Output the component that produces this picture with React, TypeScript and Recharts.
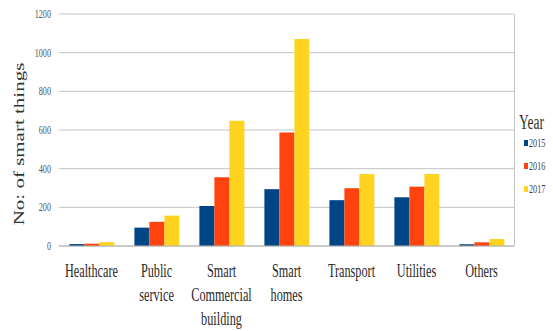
import { BarChart, Bar, XAxis, YAxis, CartesianGrid } from "recharts";

const categories = [
  "Healthcare",
  "Public\nservice",
  "Smart\nCommercial\nbuilding",
  "Smart\nhomes",
  "Transport",
  "Utilities",
  "Others",
];
const y2015 = [10, 95, 207, 294, 237, 252, 9];
const y2016 = [12, 125, 356, 587, 299, 307, 19];
const y2017 = [20, 157, 648, 1071, 373, 373, 36];
const yTicks = [0, 200, 400, 600, 800, 1000, 1200];
const years = ["2015", "2016", "2017"];
const COLORS = ["#004586", "#ff420e", "#ffd320"];

const data = categories.map((name, i) => ({
  name,
  y2015: y2015[i],
  y2016: y2016[i],
  y2017: y2017[i],
}));

const SERIF = "'Liberation Serif', 'DejaVu Serif', serif";
// the source image is squashed horizontally, so text gets squeezed too
const SQUEEZE = 0.68;

function CategoryTick({ x, y, payload }: any) {
  const lines = String(payload.value).split("\n");
  return (
    <text
      transform={`translate(${x},${y}) scale(${SQUEEZE},1)`}
      textAnchor="middle"
      fontFamily={SERIF}
      fontSize={18}
      fill="#2a2a2a"
    >
      {lines.map((ln, i) => (
        <tspan key={i} x={0} dy={i === 0 ? 23 : 24}>
          {ln}
        </tspan>
      ))}
    </text>
  );
}

function ValueTick({ x, y, payload }: any) {
  return (
    <text
      transform={`translate(${x},${y}) scale(${SQUEEZE},1)`}
      textAnchor="end"
      dy={4}
      fontFamily={SERIF}
      fontSize={12}
      fill="#555"
    >
      {payload.value}
    </text>
  );
}

export default function App() {
  return (
    <div style={{ position: "absolute", left: 0, top: 0, width: 553, height: 331, background: "#fff" }}>
      <BarChart
        width={553}
        height={331}
        data={data}
        margin={{ top: 14, right: 39, bottom: 0, left: 0 }}
        barCategoryGap="16%"
        barGap={0}
      >
        <CartesianGrid vertical={false} stroke="#c4c4c4" />
        <XAxis
          dataKey="name"
          height={85}
          interval={0}
          tickLine={false}
          axisLine={{ stroke: "#b3b3b3" }}
          tick={<CategoryTick />}
        />
        <YAxis
          width={59}
          domain={[0, 1200]}
          ticks={yTicks}
          tickLine={false}
          axisLine={false}
          tick={<ValueTick />}
        />
        <Bar dataKey="y2015" fill={COLORS[0]} isAnimationActive={false} />
        <Bar dataKey="y2016" fill={COLORS[1]} isAnimationActive={false} />
        <Bar dataKey="y2017" fill={COLORS[2]} isAnimationActive={false} />
      </BarChart>
      {/* right edge of the plot area */}
      <div style={{ position: "absolute", left: 514, top: 14, width: 1, height: 232, background: "#c4c4c4" }} />
      {/* y axis title */}
      <svg style={{ position: "absolute", left: 0, top: 0 }} width={40} height={331}>
        <text
          transform={`translate(24,144) scale(0.7,1) rotate(-90)`}
          textAnchor="middle"
          fontFamily={SERIF}
          fontSize={21}
          fill="#333"
        >
          No: of smart things
        </text>
      </svg>
      {/* legend */}
      <div style={{ position: "absolute", left: 519, top: 108, fontFamily: SERIF, color: "#333" }}>
        <div style={{ fontSize: 20, lineHeight: "28px", transform: `scaleX(${SQUEEZE})`, transformOrigin: "left" }}>
          Year
        </div>
      </div>
      {years.map((yr, i) => (
        <div key={yr} style={{ position: "absolute", left: 524, top: 143 + i * 23 - 8, height: 16, display: "flex", alignItems: "center" }}>
          <span style={{ display: "inline-block", width: 4, height: 6, background: COLORS[i], marginRight: 1 }} />
          <span
            style={{
              fontFamily: SERIF,
              fontSize: 12,
              color: "#444",
              display: "inline-block",
              transform: `scaleX(${SQUEEZE})`,
              transformOrigin: "left",
            }}
          >
            {yr}
          </span>
        </div>
      ))}
    </div>
  );
}
